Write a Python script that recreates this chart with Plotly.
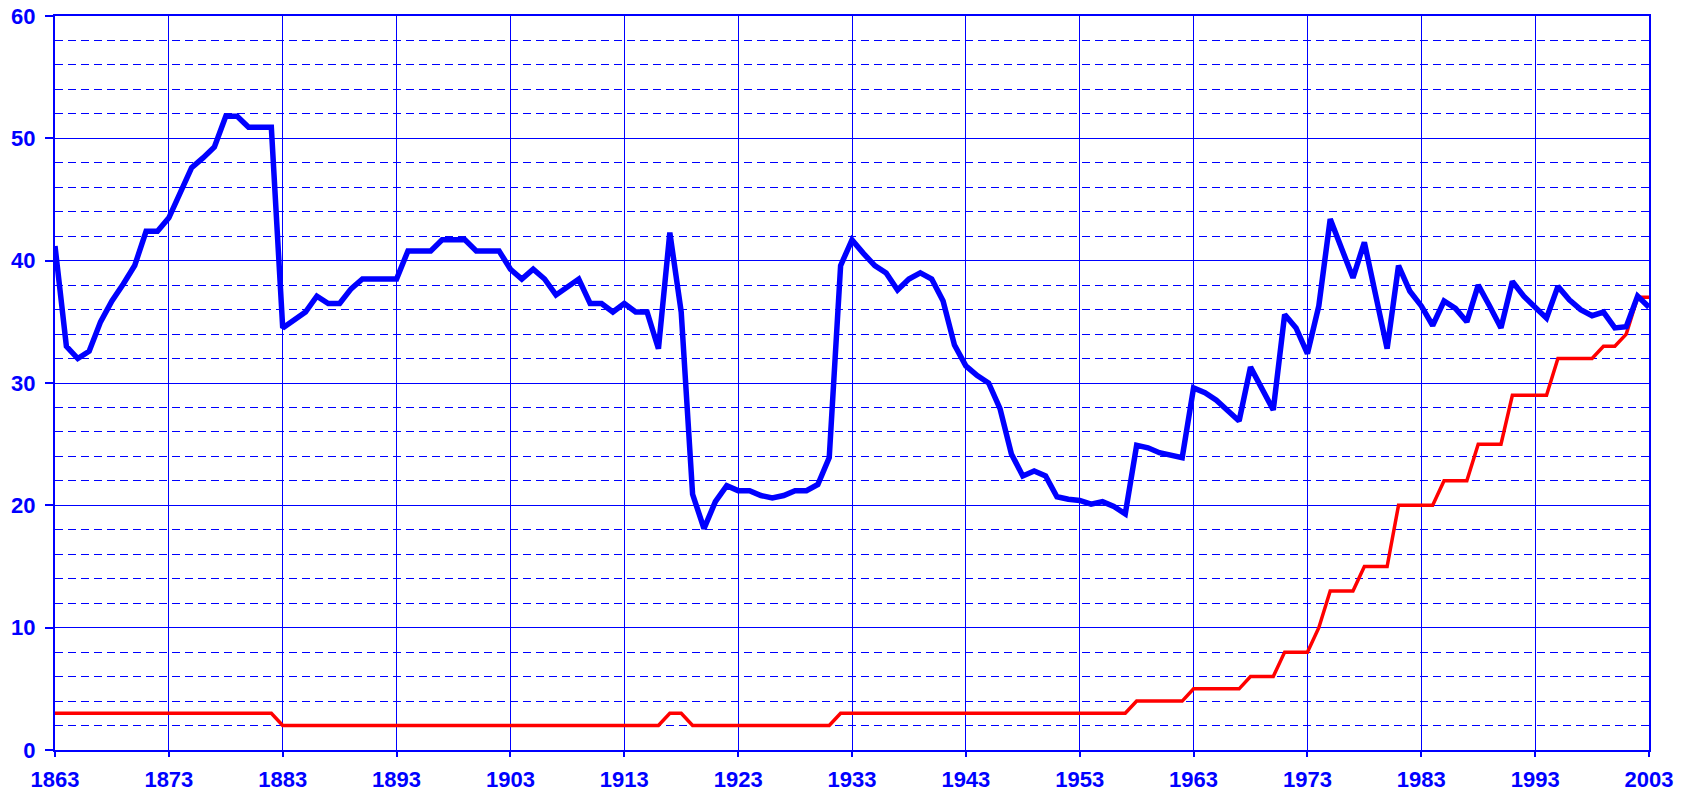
import plotly.graph_objects as go

years = list(range(1863, 2004))

blue_values = [
    41.2, 33.0, 32.0, 32.6, 35.0, 36.7, 38.1, 39.6, 42.4, 42.4,   # 1863-1872
    43.5, 45.6, 47.6, 48.4, 49.3, 51.8, 51.8, 50.9, 50.9, 50.9,   # 1873-1882
    34.5, 35.1, 35.8, 37.1, 36.5, 36.5, 37.7, 38.5, 38.5, 38.5,   # 1883-1892
    38.5, 40.8, 40.8, 40.8, 41.7, 41.7, 41.7, 40.8, 40.8, 40.8,   # 1893-1902
    39.3, 38.5, 39.3, 38.5, 37.2, 37.8, 38.5, 36.5, 36.5, 35.8,   # 1903-1912
    36.5, 35.8, 35.8, 32.8, 42.3, 35.8, 20.9, 18.1, 20.3, 21.6,   # 1913-1922
    21.2, 21.2, 20.8, 20.6, 20.8, 21.2, 21.2, 21.7, 23.9, 39.6,   # 1923-1932
    41.7, 40.6, 39.6, 39.0, 37.6, 38.5, 39.0, 38.5, 36.7, 33.1,   # 1933-1942
    31.4, 30.6, 30.0, 27.9, 24.2, 22.4, 22.8, 22.4, 20.7, 20.5,   # 1943-1952
    20.4, 20.1, 20.3, 19.9, 19.3, 24.9, 24.7, 24.3, 24.1, 23.9,   # 1953-1962
    29.6, 29.2, 28.6, 27.8, 26.9, 31.3, 29.5, 27.8, 35.6, 34.5,   # 1963-1972
    32.4, 36.3, 43.4, 41.0, 38.6, 41.5, 37.1, 32.8, 39.6, 37.5,   # 1973-1982
    36.3, 34.7, 36.7, 36.1, 35.0, 38.0, 36.3, 34.5, 38.3, 37.1,   # 1983-1992
    36.2, 35.3, 37.9, 36.8, 36.0, 35.5, 35.8, 34.5, 34.6, 37.1,   # 1993-2002
    36.2,                                                         # 2003
]

red_values = [
    3, 3, 3, 3, 3, 3, 3, 3, 3, 3,            # 1863-1872
    3, 3, 3, 3, 3, 3, 3, 3, 3, 3,            # 1873-1882
    2, 2, 2, 2, 2, 2, 2, 2, 2, 2,            # 1883-1892
    2, 2, 2, 2, 2, 2, 2, 2, 2, 2,            # 1893-1902
    2, 2, 2, 2, 2, 2, 2, 2, 2, 2,            # 1903-1912
    2, 2, 2, 2, 3, 3, 2, 2, 2, 2,            # 1913-1922
    2, 2, 2, 2, 2, 2, 2, 2, 2, 3,            # 1923-1932
    3, 3, 3, 3, 3, 3, 3, 3, 3, 3,            # 1933-1942
    3, 3, 3, 3, 3, 3, 3, 3, 3, 3,            # 1943-1952
    3, 3, 3, 3, 3, 4, 4, 4, 4, 4,            # 1953-1962
    5, 5, 5, 5, 5, 6, 6, 6, 8, 8,            # 1963-1972
    8, 10, 13, 13, 13, 15, 15, 15, 20, 20,   # 1973-1982
    20, 20, 22, 22, 22, 25, 25, 25, 29, 29,  # 1983-1992
    29, 29, 32, 32, 32, 32, 33, 33, 34, 37,  # 1993-2002
    37,                                      # 2003
]

x_tick_values = [1863, 1873, 1883, 1893, 1903, 1913, 1923, 1933, 1943, 1953, 1963, 1973, 1983, 1993, 2003]
x_tick_labels = [str(v) for v in x_tick_values]
y_tick_values = [0, 10, 20, 30, 40, 50, 60]
y_tick_labels = [str(v) for v in y_tick_values]

BLUE = "#0000ff"
font = dict(family="Liberation Sans, Arial, sans-serif", size=22, color=BLUE, weight="bold")

fig = go.Figure()
fig.add_trace(go.Scatter(x=years, y=red_values, mode="lines",
                         line=dict(color="#ff0000", width=3.5), showlegend=False))
fig.add_trace(go.Scatter(x=years, y=blue_values, mode="lines",
                         line=dict(color=BLUE, width=5.5), showlegend=False))

fig.update_xaxes(
    range=[1863, 2003], automargin=False,
    tickmode="array", tickvals=x_tick_values, ticktext=x_tick_labels,
    showgrid=True, gridcolor=BLUE, gridwidth=1,
    showline=True, linecolor=BLUE, linewidth=2, mirror=True,
    ticks="outside", ticklen=5, tickcolor=BLUE, tickwidth=1.5,
    tickfont=font, ticklabelstandoff=4, zeroline=False,
)
fig.update_yaxes(
    range=[0, 60], automargin=False,
    tickmode="array", tickvals=y_tick_values, ticktext=y_tick_labels,
    showgrid=True, gridcolor=BLUE, gridwidth=1,
    minor=dict(dtick=2, tick0=0, showgrid=True, gridcolor=BLUE, gridwidth=1, griddash="8px,5px", ticks=""),
    showline=True, linecolor=BLUE, linewidth=2, mirror=True,
    ticks="outside", ticklen=8, tickcolor=BLUE, tickwidth=1.5,
    tickfont=font, ticklabelstandoff=5, zeroline=False,
)

fig.update_layout(
    width=1686, height=793,
    margin=dict(l=55, r=37, t=16, b=43, autoexpand=False),
    plot_bgcolor="white", paper_bgcolor="white",
)

fig.write_html(
    "out.html",
    config={"displayModeBar": False},
    post_script="document.documentElement.style.margin='0';document.body.style.margin='0';"
                "document.body.style.overflow='hidden';",
)
